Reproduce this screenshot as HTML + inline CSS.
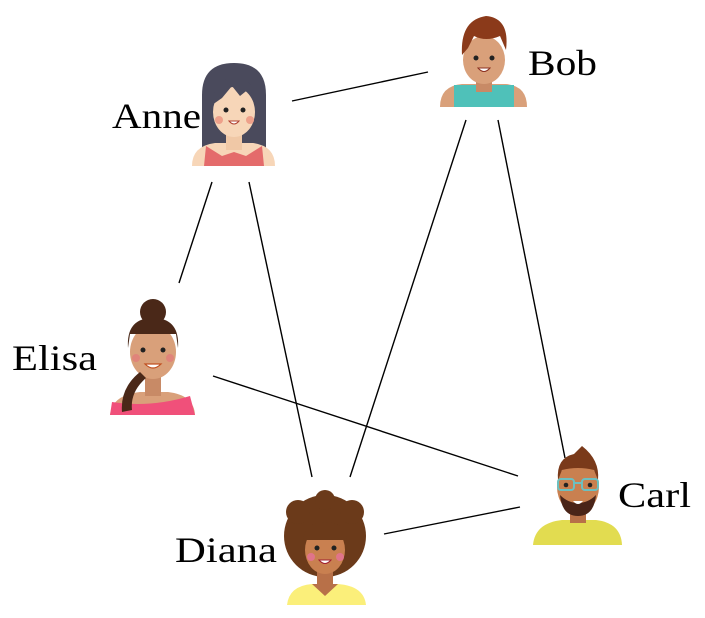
<!DOCTYPE html>
<html><head><style>
html,body{margin:0;padding:0;background:#fff;}
svg{display:block;}
text{font-family:"Liberation Serif",serif;font-size:36px;fill:#000;}
</style></head><body>
<svg width="705" height="618" viewBox="0 0 705 618" xmlns="http://www.w3.org/2000/svg">
<g stroke="#000" stroke-width="1.4">
<line x1="292" y1="101" x2="428" y2="72"/>
<line x1="212" y1="182" x2="179" y2="283"/>
<line x1="249" y1="182" x2="312" y2="477"/>
<line x1="466" y1="120" x2="350" y2="477"/>
<line x1="498" y1="120" x2="565" y2="458"/>
<line x1="213" y1="376" x2="518" y2="476"/>
<line x1="384" y1="534" x2="520" y2="507"/>
</g>

<!-- Anne -->
<g>
<path d="M202 150 L202 95 Q202 63 234 63 Q266 63 266 95 L266 150 Z" fill="#4a4a5c"/>
<path d="M192 166 Q192 146 215 143 L253 143 Q275 146 275 166 Z" fill="#f7d6b8"/>
<path d="M204 166 L206 146 L222 156 L234 152 L246 156 L262 146 L264 166 Z" fill="#e46b6b"/>
<rect x="226" y="128" width="16" height="22" fill="#f0c8a6"/>
<ellipse cx="234" cy="112" rx="21" ry="25" fill="#f7d6b8"/>
<path d="M212 105 Q214 78 234 78 Q256 78 256 105 L250 88 L240 96 L232 86 L222 98 Z" fill="#4a4a5c"/>
<circle cx="226" cy="110" r="2.5" fill="#222"/><circle cx="243" cy="110" r="2.5" fill="#222"/>
<circle cx="219" cy="120" r="4" fill="#eea08a"/><circle cx="250" cy="120" r="4" fill="#eea08a"/>
<path d="M229 121 Q234 127 239 121 Z" fill="#fff" stroke="#b04030" stroke-width="1"/>
</g>

<!-- Bob -->
<g>
<path d="M440 107 Q440 86 462 84 L506 84 Q527 86 527 107 Z" fill="#d9a07a"/>
<rect x="454" y="85" width="60" height="22" fill="#4fc1b9"/>
<rect x="476" y="72" width="16" height="20" fill="#c88a66"/>
<ellipse cx="484" cy="60" rx="21" ry="24" fill="#d9a07a"/>
<path d="M462 55 Q460 20 486 16 Q510 18 506 50 L500 36 Q486 42 474 36 L468 48 Z" fill="#8b3a1a"/>
<circle cx="476" cy="58" r="2.5" fill="#222"/><circle cx="492" cy="58" r="2.5" fill="#222"/>
<path d="M478 68 Q484 75 490 68 Z" fill="#fff" stroke="#8b3020" stroke-width="1"/>
</g>

<!-- Elisa -->
<g>
<circle cx="153" cy="312" r="13" fill="#4a2818"/>
<path d="M110 415 Q112 395 140 392 L168 392 Q194 395 195 415 Z" fill="#d9a07a"/>
<path d="M110 415 L112 402 Q150 408 190 396 L195 415 Z" fill="#f0507a"/>
<rect x="145" y="372" width="16" height="24" fill="#c88a66"/>
<ellipse cx="153" cy="352" rx="23" ry="27" fill="#d9a07a"/>
<path d="M128 348 Q126 318 153 318 Q180 318 178 348 L176 334 Q153 334 130 334 Z" fill="#4a2818"/>
<path d="M140 372 Q120 388 122 412 L132 410 Q130 392 146 378 Z" fill="#4a2818"/>
<circle cx="143" cy="350" r="2.5" fill="#222"/><circle cx="163" cy="350" r="2.5" fill="#222"/>
<circle cx="136" cy="358" r="4" fill="#e0847a"/><circle cx="170" cy="358" r="4" fill="#e0847a"/>
<path d="M145 364 Q153 372 161 364 Z" fill="#fff" stroke="#c05020" stroke-width="1.2"/>
</g>

<!-- Carl -->
<g>
<path d="M533 545 Q535 523 562 520 L596 520 Q621 523 622 545 Z" fill="#e2dc50"/>
<rect x="570" y="505" width="16" height="18" fill="#b87048"/>
<ellipse cx="578" cy="487" rx="21" ry="26" fill="#c98050"/>
<path d="M558 480 Q556 458 574 454 L582 446 Q600 460 598 480 L594 470 Q578 466 562 470 Z" fill="#7a3a1a"/>
<path d="M560 495 Q562 516 578 516 Q594 516 596 495 Q588 503 578 503 Q568 503 560 495 Z" fill="#4a2418"/>
<g fill="none" stroke="#6cc0c0" stroke-width="2">
<rect x="558" y="479" width="16" height="11" rx="3"/><rect x="582" y="479" width="16" height="11" rx="3"/>
<line x1="574" y1="483" x2="582" y2="483"/></g>
<circle cx="566" cy="485" r="2.3" fill="#222"/><circle cx="590" cy="485" r="2.3" fill="#222"/>
<path d="M573 501 Q578 507 583 501 Z" fill="#fff"/>
</g>

<!-- Diana -->
<g>
<circle cx="325" cy="536" r="41" fill="#6b3a1a"/>
<circle cx="298" cy="512" r="12" fill="#6b3a1a"/><circle cx="352" cy="512" r="12" fill="#6b3a1a"/>
<circle cx="325" cy="500" r="10" fill="#6b3a1a"/>
<path d="M287 605 Q289 586 312 584 L338 584 Q364 586 366 605 Z" fill="#fbef7a"/>
<path d="M312 584 L325 596 L338 584 Z" fill="#b87048"/>
<rect x="317" y="566" width="16" height="22" fill="#b87048"/>
<ellipse cx="325" cy="550" rx="20" ry="24" fill="#c98050"/>
<path d="M303 540 Q305 522 325 522 Q345 522 347 540 Z" fill="#6b3a1a"/>
<circle cx="317" cy="548" r="2.5" fill="#222"/><circle cx="334" cy="548" r="2.5" fill="#222"/>
<circle cx="311" cy="557" r="4" fill="#e0748a"/><circle cx="340" cy="557" r="4" fill="#e0748a"/>
<path d="M319 560 Q325 567 331 560 Z" fill="#fff" stroke="#a02030" stroke-width="1"/>
</g>

<text x="112" y="128" textLength="89" lengthAdjust="spacingAndGlyphs">Anne</text>
<text x="528" y="75" textLength="69" lengthAdjust="spacingAndGlyphs">Bob</text>
<text x="12" y="370" textLength="85" lengthAdjust="spacingAndGlyphs">Elisa</text>
<text x="618" y="507" textLength="73" lengthAdjust="spacingAndGlyphs">Carl</text>
<text x="175" y="562" textLength="102" lengthAdjust="spacingAndGlyphs">Diana</text>
</svg>
</body></html>
